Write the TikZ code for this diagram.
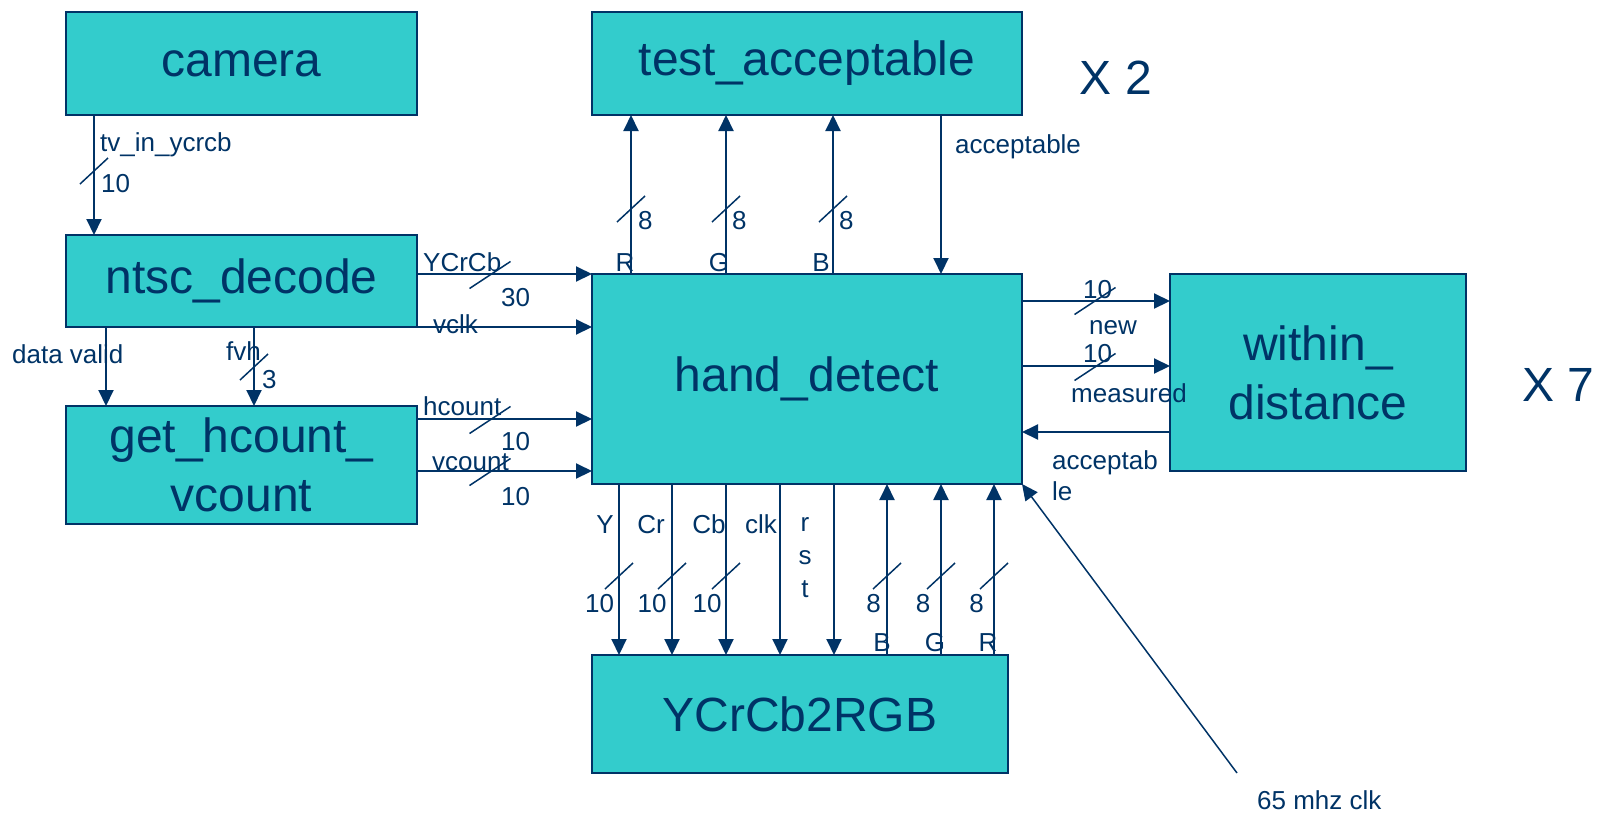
\documentclass[tikz,border=0pt]{standalone}
\usepackage{fontspec}
\setmainfont{Liberation Sans}
\usetikzlibrary{arrows.meta}
\definecolor{inkblue}{HTML}{003366}
\definecolor{blockfill}{HTML}{33CCCC}
\tikzset{
  vbus/.pic={\draw[busmark] (-14,13) -- (14,-13);},
  hbus/.pic={\draw[busmark] (-20.5,13.5) -- (20.5,-13.5);},
}
\begin{document}
\begin{tikzpicture}[x=1pt,y=-1pt,
  block/.style={draw=inkblue, fill=blockfill, line width=2pt, inner sep=0pt, outer sep=0pt,
    text=inkblue, font=\fontsize{48}{59}\selectfont, align=center},
  sig/.style={draw=inkblue, line width=2pt, -{Triangle[length=16pt,width=15pt]}},
  busmark/.style={draw=inkblue, line width=1.5pt},
  lab/.style={text=inkblue, font=\fontsize{26}{31}\selectfont, inner sep=0pt,
    text height=19pt, text depth=0pt},
  labml/.style={text=inkblue, font=\fontsize{26}{31}\selectfont, inner sep=0pt},
  big/.style={text=inkblue, font=\fontsize{48}{59}\selectfont, inner sep=0pt}]
\useasboundingbox (0,0) rectangle (1602,812);

% blocks
\node[block, minimum width=351pt, minimum height=103pt] (cam)  at (241.5,63.5) {camera};
\node[block, minimum width=430pt, minimum height=103pt] (ta)   at (807,63.5)   {test\_acceptable};
\node[block, minimum width=351pt, minimum height=92pt]  (ntsc) at (241.5,281)  {ntsc\_decode};
\node[block, minimum width=351pt, minimum height=118pt] (hc)   at (241.5,465)  {get\_hcount\_\\vcount};
\node[block, minimum width=430pt, minimum height=210pt] (hd)   at (807,379)    {hand\_detect};
\node[block, minimum width=296pt, minimum height=197pt] (wd)   at (1318,372.5) {within\_\\distance};
\node[block, minimum width=416pt, minimum height=118pt] (rgb)  at (800,714)    {YCrCb2RGB};

\node[big] (x2) at (1116,78) {X 2};
\node[big] (x7) at (1558,385) {X 7};

% camera -> ntsc_decode
\draw[sig] ([xshift=28pt]cam.south west) -- ([xshift=28pt]ntsc.north west);
\pic at (94,171) {vbus};
\node[lab, anchor=west] (l_tv) at (100,142) {tv\_in\_ycrcb};
\node[lab, anchor=west] (n_tv) at (101,183) {10};

% ntsc_decode -> hand_detect
\draw[sig] ([yshift=-39pt]ntsc.north east) -- (hd.north west);
\pic at (490,275) {hbus};
\node[lab, anchor=west] (l_ycc) at (423,262) {YCrCb};
\node[lab, anchor=west] (n_ycc) at (501,297) {30};
\draw[sig] (ntsc.south east) -- ([yshift=-53pt]hd.north west);
\node[lab, anchor=west] (l_vclk) at (433,324) {vclk};

% ntsc_decode -> get_hcount_vcount
\draw[sig] ([xshift=40pt]ntsc.south west) -- ([xshift=40pt]hc.north west);
\node[lab, anchor=west] (l_dv) at (12,354) {data valid};
\draw[sig] ([xshift=188pt]ntsc.south west) -- ([xshift=188pt]hc.north west);
\pic at (254,367) {vbus};
\node[lab, anchor=west] (l_fvh) at (226,351) {fvh};
\node[lab, anchor=west] (n_fvh) at (262,379) {3};

% get_hcount_vcount -> hand_detect
\draw[sig] ([yshift=-13pt]hc.north east) -- ([yshift=-145pt]hd.north west);
\pic at (490,420) {hbus};
\node[lab, anchor=west] (l_hc) at (423,406) {hcount};
\node[lab, anchor=west] (n_hc) at (501,441) {10};
\draw[sig] ([yshift=-65pt]hc.north east) -- ([yshift=-197pt]hd.north west);
\pic at (490,472) {hbus};
\node[lab, anchor=west] (l_vc) at (432,461) {vcount};
\node[lab, anchor=west] (n_vc) at (501,496) {10};

% hand_detect <-> test_acceptable
\draw[sig] ([xshift=39pt]hd.north west) -- ([xshift=39pt]ta.south west);
\draw[sig] ([xshift=134pt]hd.north west) -- ([xshift=134pt]ta.south west);
\draw[sig] ([xshift=241pt]hd.north west) -- ([xshift=241pt]ta.south west);
\draw[sig] ([xshift=349pt]ta.south west) -- ([xshift=349pt]hd.north west);
\pic at (631,209) {vbus};
\pic at (726,209) {vbus};
\pic at (833,209) {vbus};
\node[lab, anchor=west] (n_r) at (638,220) {8};
\node[lab, anchor=west] (n_g) at (732,220) {8};
\node[lab, anchor=west] (n_b) at (839,220) {8};
\node[lab] (l_r) at (625,262) {R};
\node[lab] (l_g) at (719,262) {G};
\node[lab] (l_b) at (821,262) {B};
\node[lab, anchor=west] (l_acc) at (955,144) {acceptable};

% hand_detect <-> within_distance
\draw[sig] ([yshift=-27pt]hd.north east) -- ([yshift=-27pt]wd.north west);
\pic at (1095,301) {hbus};
\node[lab, anchor=west] (n_new) at (1083,289) {10};
\node[lab, anchor=west] (l_new) at (1089,325) {new};
\draw[sig] ([yshift=-92pt]hd.north east) -- ([yshift=-92pt]wd.north west);
\pic at (1095,367) {hbus};
\node[lab, anchor=west] (n_meas) at (1083,353) {10};
\node[lab, anchor=west] (l_meas) at (1071,393) {measured};
\draw[sig] ([yshift=-158pt]wd.north west) -- ([yshift=-158pt]hd.north east);
\node[labml, anchor=north west, align=left] (l_acc2) at (1052,450) {acceptab\\le};

% hand_detect <-> YCrCb2RGB
\foreach \dx in {27,80,134,188,242}
  \draw[sig] ([xshift=\dx pt]hd.south west) -- ([xshift=\dx pt]rgb.north west);
\foreach \dx in {295,349,402}
  \draw[sig] ([xshift=\dx pt]rgb.north west) -- ([xshift=\dx pt]hd.south west);
\foreach \px in {619,672,726,887,941,994}
  \pic at (\px,576) {vbus};
\node[lab] (l_y)   at (605,524) {Y};
\node[lab] (l_cr)  at (651,524) {Cr};
\node[lab] (l_cb)  at (709,524) {Cb};
\node[lab] (l_clk) at (761,524) {clk};
\node[labml, anchor=north, align=center, font=\fontsize{26}{33}\selectfont] (l_rst) at (805,517) {r\\s\\t};
\node[lab] (n_y)  at (599.5,603) {10};
\node[lab] (n_cr) at (652,603) {10};
\node[lab] (n_cb) at (707,603) {10};
\node[lab] (n_b2) at (873.5,603) {8};
\node[lab] (n_g2) at (923,603) {8};
\node[lab] (n_r2) at (976.5,603) {8};
\node[lab] (l_b2) at (882,642) {B};
\node[lab] (l_g2) at (935,642) {G};
\node[lab] (l_r2) at (988,642) {R};

% system clock
\coordinate (clkin) at (1237,773);
\draw[sig, line width=1.5pt] (clkin) -- (hd.south east);
\node[lab, anchor=west] (l_clk65) at (1257,800) {65 mhz clk};
\end{tikzpicture}
\end{document}
